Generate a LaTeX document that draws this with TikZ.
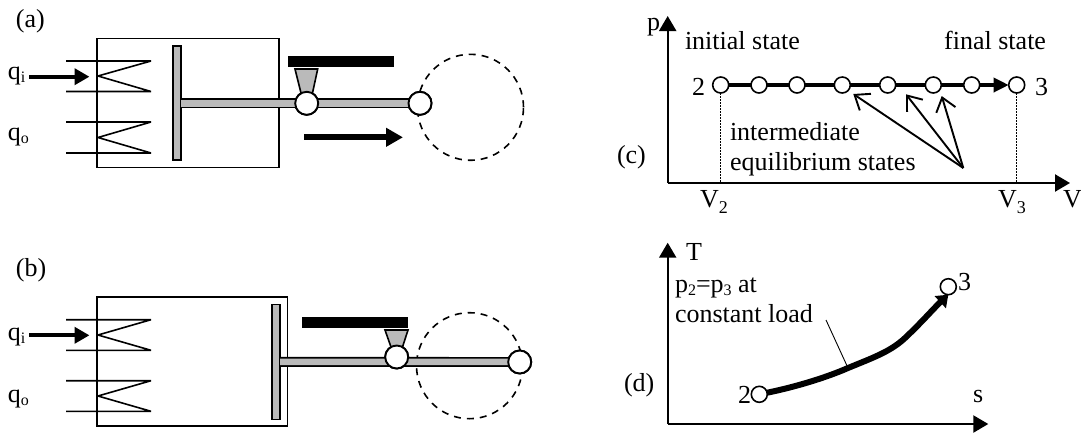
\documentclass[tikz,border=0pt]{standalone}
\usepackage{fontspec}
\setmainfont{Liberation Serif}
\usetikzlibrary{arrows.meta}
\newcommand{\lowsub}[1]{\raisebox{-3pt}{\fontsize{16}{16}\selectfont #1}}
\newcommand{\widesub}[1]{\raisebox{-6pt}{\fontsize{18}{18}\selectfont #1}}
\tikzset{
  txt/.style={anchor=base west,inner sep=0pt,outer sep=0pt,font=\fontsize{26}{30}\selectfont},
  wall/.style={draw=black,line width=1.7pt},
  coil/.style={draw=black,line width=1.6pt,line join=bevel},
  joint/.style={circle,draw=black,fill=white,line width=1.9pt,minimum size=23pt,inner sep=0pt,outer sep=0pt},
  state/.style={circle,draw=black,fill=white,line width=1.6pt,minimum size=16pt,inner sep=0pt,outer sep=0pt},
  piston/.style={rectangle,draw=black,fill=black!27,line width=1.6pt,minimum width=7.5pt,inner sep=0pt,outer sep=0pt},
  load/.style={rectangle,fill=black,inner sep=0pt,outer sep=0pt,minimum height=11.5pt},
  rod/.style={double=black!27,double distance=6.5pt,line width=1.7pt},
  orbit/.style={circle,draw=black,line width=1.6pt,dash pattern=on 7pt off 6pt,minimum size=106pt,inner sep=0pt},
  pusher/.style={draw=black,fill=black!27,line width=1.6pt},
  heatarrow/.style={line width=4pt,-{Triangle[length=15pt,width=16pt]}},
  movearrow/.style={line width=6pt,-{Triangle[length=17pt,width=18pt]}},
  axis/.style={line width=2.2pt,-{Triangle[length=15pt,width=17pt]}},
  pointer/.style={line width=1.9pt,-{Straight Barb[length=13pt,width=20pt]}},
  guide/.style={line width=0.8pt,dash pattern=on 1.5pt off 1.5pt},
}
\begin{document}
\begin{tikzpicture}[x=1pt,y=-1pt]
\useasboundingbox (0,0) rectangle (1081,432);
\fill[white] (0,0) rectangle (1081,432);
% ---------- (a)
\node[txt] (la) at (16,27) {(a)};
\draw[wall] (97,38.5) rectangle (279,167.5);
\draw[coil] (66,61)--(151,61)--(98,76)--(151,91.5)--(66,91.5);
\draw[coil] (66,122)--(151,122)--(98,137.5)--(151,153)--(66,153);
\node[txt] (qia) at (8,79) {q\lowsub{i}};
\node[txt] (qoa) at (8,140) {q\lowsub{o}};
\coordinate (qiaend) at (89.5,76.7);
\coordinate (qiast) at (29,76.7);
\draw[heatarrow] (qiast) -- (qiaend);
\node[orbit] (orba) at (470.5,107.3) {};
\node[piston,minimum height=114pt] (pa) at (177,103) {};
\node[joint] (ja) at (306.7,103.3) {};
\node[joint] (ka) at (420,103.3) {};
\draw[rod] (pa.east |- ja) -- (ja);
\draw[rod] (ja) -- (ka);
\node[load,minimum width=106pt] (la1) at (340.6,61.5) {};
\draw[pusher] (295,69)--(317.7,69)--(312.5,93)--(301,93)--cycle;
\node[joint] at (ja) {};
\node[joint] at (ka) {};
\coordinate (ma) at (304,137.3);
\coordinate (mb) at (403,137.3);
\draw[movearrow] (ma) -- (mb);
% ---------- (b)
\node[txt] (lb) at (16,276) {(b)};
\draw[wall] (97,296.7) rectangle (287.5,426.3);
\draw[coil] (66,319.7)--(151,319.7)--(98,335)--(151,350.3)--(66,350.3);
\draw[coil] (66,380.7)--(151,380.7)--(98,396)--(151,411.3)--(66,411.3);
\node[txt] (qib) at (8,340) {q\lowsub{i}};
\node[txt] (qob) at (8,402) {q\lowsub{o}};
\coordinate (qibend) at (89.5,335.3);
\coordinate (qibst) at (29,335.3);
\draw[heatarrow] (qibst) -- (qibend);
\node[orbit] (orbb) at (469.5,365.7) {};
\node[piston,minimum height=115pt] (pb) at (276,361.8) {};
\node[joint] (jb) at (396.7,357) {};
\node[joint] (kb) at (519.7,362) {};
\coordinate (rb) at (280,361.8);
\draw[rod] (rb) -- (kb);
\node[load,minimum width=106.3pt] (lb1) at (354.8,322.5) {};
\draw[pusher] (385,330)--(408,330)--(402.5,347)--(391,347)--cycle;
\node[joint] at (jb) {};
\node[joint] at (kb) {};
% ---------- (c)
\coordinate (oc) at (667.7,183);
\coordinate (cy) at (667.7,16);
\coordinate (cx) at (1070,183);
\node[state] (s1) at (720.7,85) {};
\node[state] (s2) at (759,85) {};
\node[state] (s3) at (797,85) {};
\node[state] (s4) at (842.3,85) {};
\node[state] (s5) at (887.7,85) {};
\node[state] (s6) at (933.3,85) {};
\node[state] (s7) at (971.7,85) {};
\node[state] (s8) at (1016.7,85) {};
\draw[guide] (s1) -- (s1 |- oc);
\draw[guide] (s8) -- (s8 |- oc);
\draw[axis] (oc) -- (cy);
\draw[axis] (oc) -- (cx);
\foreach \a/\b in {s1/s2,s2/s3,s3/s4,s4/s5,s5/s6,s6/s7}
  \draw[line width=3.4pt] (\a) -- (\b);
\draw[line width=3.4pt,-{Triangle[length=15pt,width=14pt]}] (s7) -- (s8);
\coordinate (src) at (963.3,168);
\coordinate (t1) at (853.3,94);
\coordinate (t2) at (906,94.3);
\coordinate (t3) at (941.7,96);
\draw[pointer] (src) -- (t1);
\draw[pointer] (src) -- (t2);
\draw[pointer] (src) -- (t3);
\node[txt] (tp) at (647,30) {p};
\node[txt] (tinit) at (685,49) {initial state};
\node[txt,anchor=base east] (tfin) at (1046,49) {final state};
\node[txt] (t2l) at (692,95) {2};
\node[txt] (t3l) at (1035,95) {3};
\node[txt] (tim) at (730,140) {intermediate};
\node[txt] (teq) at (730,170.7) {equilibrium states};
\node[txt] (lc) at (617,163) {(c)};
\node[txt] (v2) at (700,207) {V\widesub{2}};
\node[txt] (v3) at (998,207) {V\widesub{3}};
\node[txt,anchor=base east] (vv) at (1082,207) {V};
% ---------- (d)
\coordinate (od) at (667.7,424);
\coordinate (dy) at (667.7,242.7);
\coordinate (dx) at (988.3,424);
\draw[axis] (od) -- (dy);
\draw[axis] (od) -- (dx);
\node[state] (d2) at (759.3,394.3) {};
\node[state] (d3) at (948.3,286.7) {};
\coordinate (cm) at (848,368);
\coordinate (lead) at (826,320);
\draw[line width=0.9pt] (lead) -- (cm);
\draw[line width=6pt,-{Triangle[length=11pt,width=16pt]}] (d2) .. controls (795,387) and (825,378) .. (cm) .. controls (872,358) and (890,352) .. (905,338) .. controls (922,322) and (934,308) .. (d3.south);
\node[txt] (tT) at (686,260.7) {T};
\node[txt] (tpp) at (675,292) {p\lowsub{2}=p\lowsub{3} at};
\node[txt] (tcl) at (675,322.7) {constant load};
\node[txt] (d2l) at (738,403) {2};
\node[txt] (d3l) at (958,290) {3};
\node[txt] (ts) at (973,402.7) {s};
\node[txt] (ld) at (624,391.7) {(d)};
\end{tikzpicture}
\end{document}
